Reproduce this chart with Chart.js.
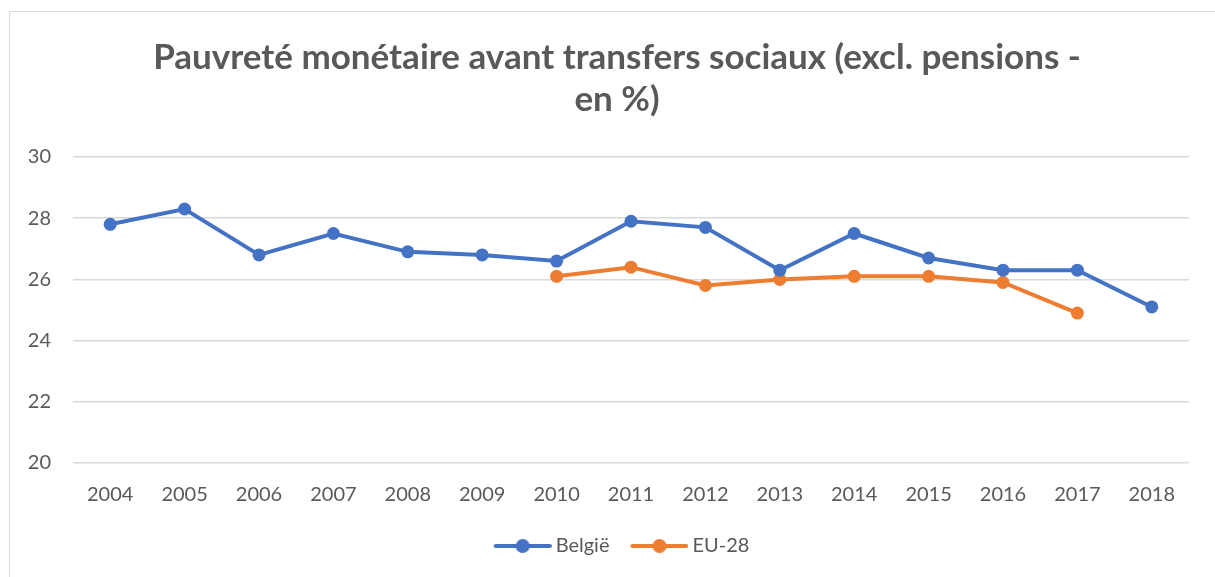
<!DOCTYPE html>
<html><head><meta charset="utf-8">
<script src="https://cdn.jsdelivr.net/npm/chart.js@4/dist/chart.umd.min.js"></script>
<style>
html,body{margin:0;padding:0;background:#fff;}
#wrap{position:relative;width:1215px;height:577px;overflow:hidden;}
#frame{position:absolute;left:9px;top:11px;width:1240px;height:600px;border:1px solid #d9d9d9;box-sizing:border-box;}
canvas{position:absolute;left:0;top:0;}
</style></head>
<body><div id="wrap"><div id="frame"></div><canvas id="c" width="1215" height="577"></canvas></div>
<script>
const years = ['2004','2005','2006','2007','2008','2009','2010','2011','2012','2013','2014','2015','2016','2017','2018'];
const belgie = [27.8,28.3,26.8,27.5,26.9,26.8,26.6,27.9,27.7,26.3,27.5,26.7,26.3,26.3,25.1];
const eu28 = [null,null,null,null,null,null,26.1,26.4,25.8,26.0,26.1,26.1,25.9,24.9,null];
const titleLines = ['Pauvreté monétaire avant transfers sociaux (excl. pensions -','en %)'];
const BLUE='#4472C4', ORANGE='#ED7D31';
function legendIcon(color, m){
  const w=56+m+2, c=document.createElement('canvas'); c.width=w; c.height=16;
  const x=c.getContext('2d');
  x.strokeStyle=color; x.lineWidth=4; x.lineCap='round';
  x.beginPath(); x.moveTo(m+2,8); x.lineTo(w-2,8); x.stroke();
  x.fillStyle=color; x.beginPath(); x.arc(m+1+28,8,7,0,Math.PI*2); x.fill();
  return c;
}
const icons=[legendIcon(BLUE,15),legendIcon(ORANGE,15)];
const FONT="Lato, 'Open Sans', sans-serif";
new Chart(document.getElementById('c'),{
  type:'line',
  data:{labels:years,datasets:[
    {label:'België',data:belgie,borderColor:BLUE,backgroundColor:BLUE,borderWidth:4,pointRadius:6.5,pointHoverRadius:6.5,pointBackgroundColor:BLUE,pointBorderWidth:0,tension:0},
    {label:'EU-28',data:eu28,borderColor:ORANGE,backgroundColor:ORANGE,borderWidth:4,pointRadius:6.5,pointHoverRadius:6.5,pointBackgroundColor:ORANGE,pointBorderWidth:0,tension:0}
  ]},
  options:{
    responsive:false,animation:false,
    layout:{padding:{left:45,right:26,top:0,bottom:11}},
    plugins:{
      title:{display:true,text:titleLines,color:'#595959',font:{family:FONT,size:35,weight:'bold',lineHeight:1.2},padding:{top:37,bottom:36}},
      legend:{position:'bottom',labels:{usePointStyle:true,pointStyleWidth:61,boxHeight:16,color:'#595959',font:{family:FONT,size:20},padding:12,
        generateLabels:(chart)=>chart.data.datasets.map((d,i)=>({text:d.label,pointStyle:icons[i],fillStyle:d.borderColor,strokeStyle:d.borderColor,lineWidth:0,fontColor:'#595959',datasetIndex:i,hidden:false}))}},
      tooltip:{enabled:false}
    },
    scales:{
      x:{offset:true,grid:{display:false,offset:true},border:{display:false},ticks:{color:'#595959',font:{family:FONT,size:20},padding:12,maxRotation:0},
         afterFit:(s)=>{s.height=61;}},
      y:{min:20,max:30,ticks:{stepSize:2,color:'#595959',font:{family:FONT,size:20},padding:22},
         grid:{color:'#d9d9d9',lineWidth:1.5,drawTicks:false},border:{display:false},
         afterFit:(s)=>{s.width=28; s._computeLabelArea=()=>undefined;}}
    }
  }
});
</script></body></html>
